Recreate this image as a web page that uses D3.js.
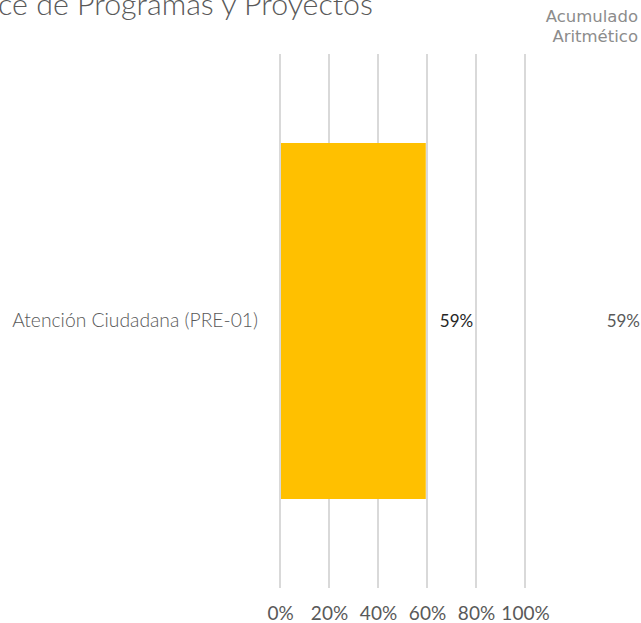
<!DOCTYPE html>
<html lang="es">
  <head>
    <title>Avance de Programas y Proyectos</title>
    <meta charset="utf-8" />
    <script src="https://d3js.org/d3.v7.min.js"></script>
    <style>
      body { margin: 0; background: #ffffff; }
      svg { display: block; }
    </style>
  </head>
  <body>
    <svg width="641" height="623" xmlns="http://www.w3.org/2000/svg" id="target"></svg>
    <script>
        const categories = ["Atención Ciudadana (PRE-01)"];
        const avance = [0.595];
        const acumulado = ["59%"];
        const tick_values = [0, 0.2, 0.4, 0.6, 0.8, 1.0];
        const title_text = "Avance de Programas y Proyectos";
        const side_title = ["Acumulado", "Aritmético"];

        const svg = d3.select("#target");

        const x = d3.scaleLinear().domain([0, 1]).range([280, 525]);
        const y = d3.scaleBand().domain(categories).range([54, 588]).padding(0.2);

        // grid lines
        svg.selectAll("line.grid")
          .data(tick_values)
          .enter()
          .append("line")
          .attr("class", "grid")
          .attr("x1", d => x(d))
          .attr("x2", d => x(d))
          .attr("y1", 54)
          .attr("y2", 588)
          .attr("stroke", "#d9d9d9")
          .attr("stroke-width", 2)
        ;

        // bars
        svg.selectAll("rect.bar")
          .data(avance)
          .enter()
          .append("rect")
          .attr("class", "bar")
          .attr("x", x(0) + 1)
          .attr("y", (d, i) => y(categories[i]))
          .attr("width", d => x(d) - x(0) - 1)
          .attr("height", y.bandwidth())
          .attr("fill", "#ffc000")
        ;

        // x axis labels
        const xAxis = d3.axisBottom(x)
          .tickValues(tick_values)
          .tickFormat(d3.format(".0%"))
          .tickSize(0)
          .tickPadding(0);
        const gx = svg.append("g")
          .attr("transform", "translate(0,606)")
          .call(xAxis);
        gx.select(".domain").remove();
        gx.selectAll("text")
          .attr("font-family", "Lato, sans-serif")
          .attr("font-size", 19)
          .attr("fill", "#595959");

        // category labels
        const yAxis = d3.axisLeft(y).tickSize(0).tickPadding(0);
        const gy = svg.append("g")
          .attr("transform", "translate(258,0)")
          .call(yAxis);
        gy.select(".domain").remove();
        gy.selectAll("text")
          .attr("font-family", "Lato, sans-serif")
          .attr("font-weight", 300)
          .attr("font-size", 19.3)
          .attr("fill", "#595959");

        // value labels
        svg.selectAll("text.val")
          .data(avance)
          .enter()
          .append("text")
          .attr("class", "val")
          .attr("x", d => x(d) + 14)
          .attr("y", (d, i) => y(categories[i]) + y.bandwidth() / 2)
          .attr("dy", "0.35em")
          .attr("font-family", "Lato, sans-serif")
          .attr("font-size", 17)
          .attr("fill", "#262626")
          .text(d => Math.floor(d * 100) + "%")
        ;

        svg.selectAll("text.acum")
          .data(acumulado)
          .enter()
          .append("text")
          .attr("class", "acum")
          .attr("x", 640)
          .attr("y", (d, i) => y(categories[i]) + y.bandwidth() / 2)
          .attr("dy", "0.35em")
          .attr("text-anchor", "end")
          .attr("font-family", "Lato, sans-serif")
          .attr("font-size", 17)
          .attr("fill", "#595959")
          .text(d => d)
        ;

        // titles (the chart title runs off the left edge, as in the source)
        svg.append("text")
          .attr("x", 373)
          .attr("y", 15)
          .attr("text-anchor", "end")
          .attr("font-family", "Lato, sans-serif")
          .attr("font-weight", 300)
          .attr("font-size", 30.4)
          .attr("fill", "#595959")
          .text(title_text)
        ;

        svg.selectAll("text.side")
          .data(side_title)
          .enter()
          .append("text")
          .attr("class", "side")
          .attr("x", 638)
          .attr("y", (d, i) => 22 + i * 20)
          .attr("text-anchor", "end")
          .attr("font-family", "'DejaVu Sans', sans-serif")
          .attr("font-size", 16.5)
          .attr("fill", "#8c8c8c")
          .text(d => d)
        ;
    </script>
</body>
</html>
